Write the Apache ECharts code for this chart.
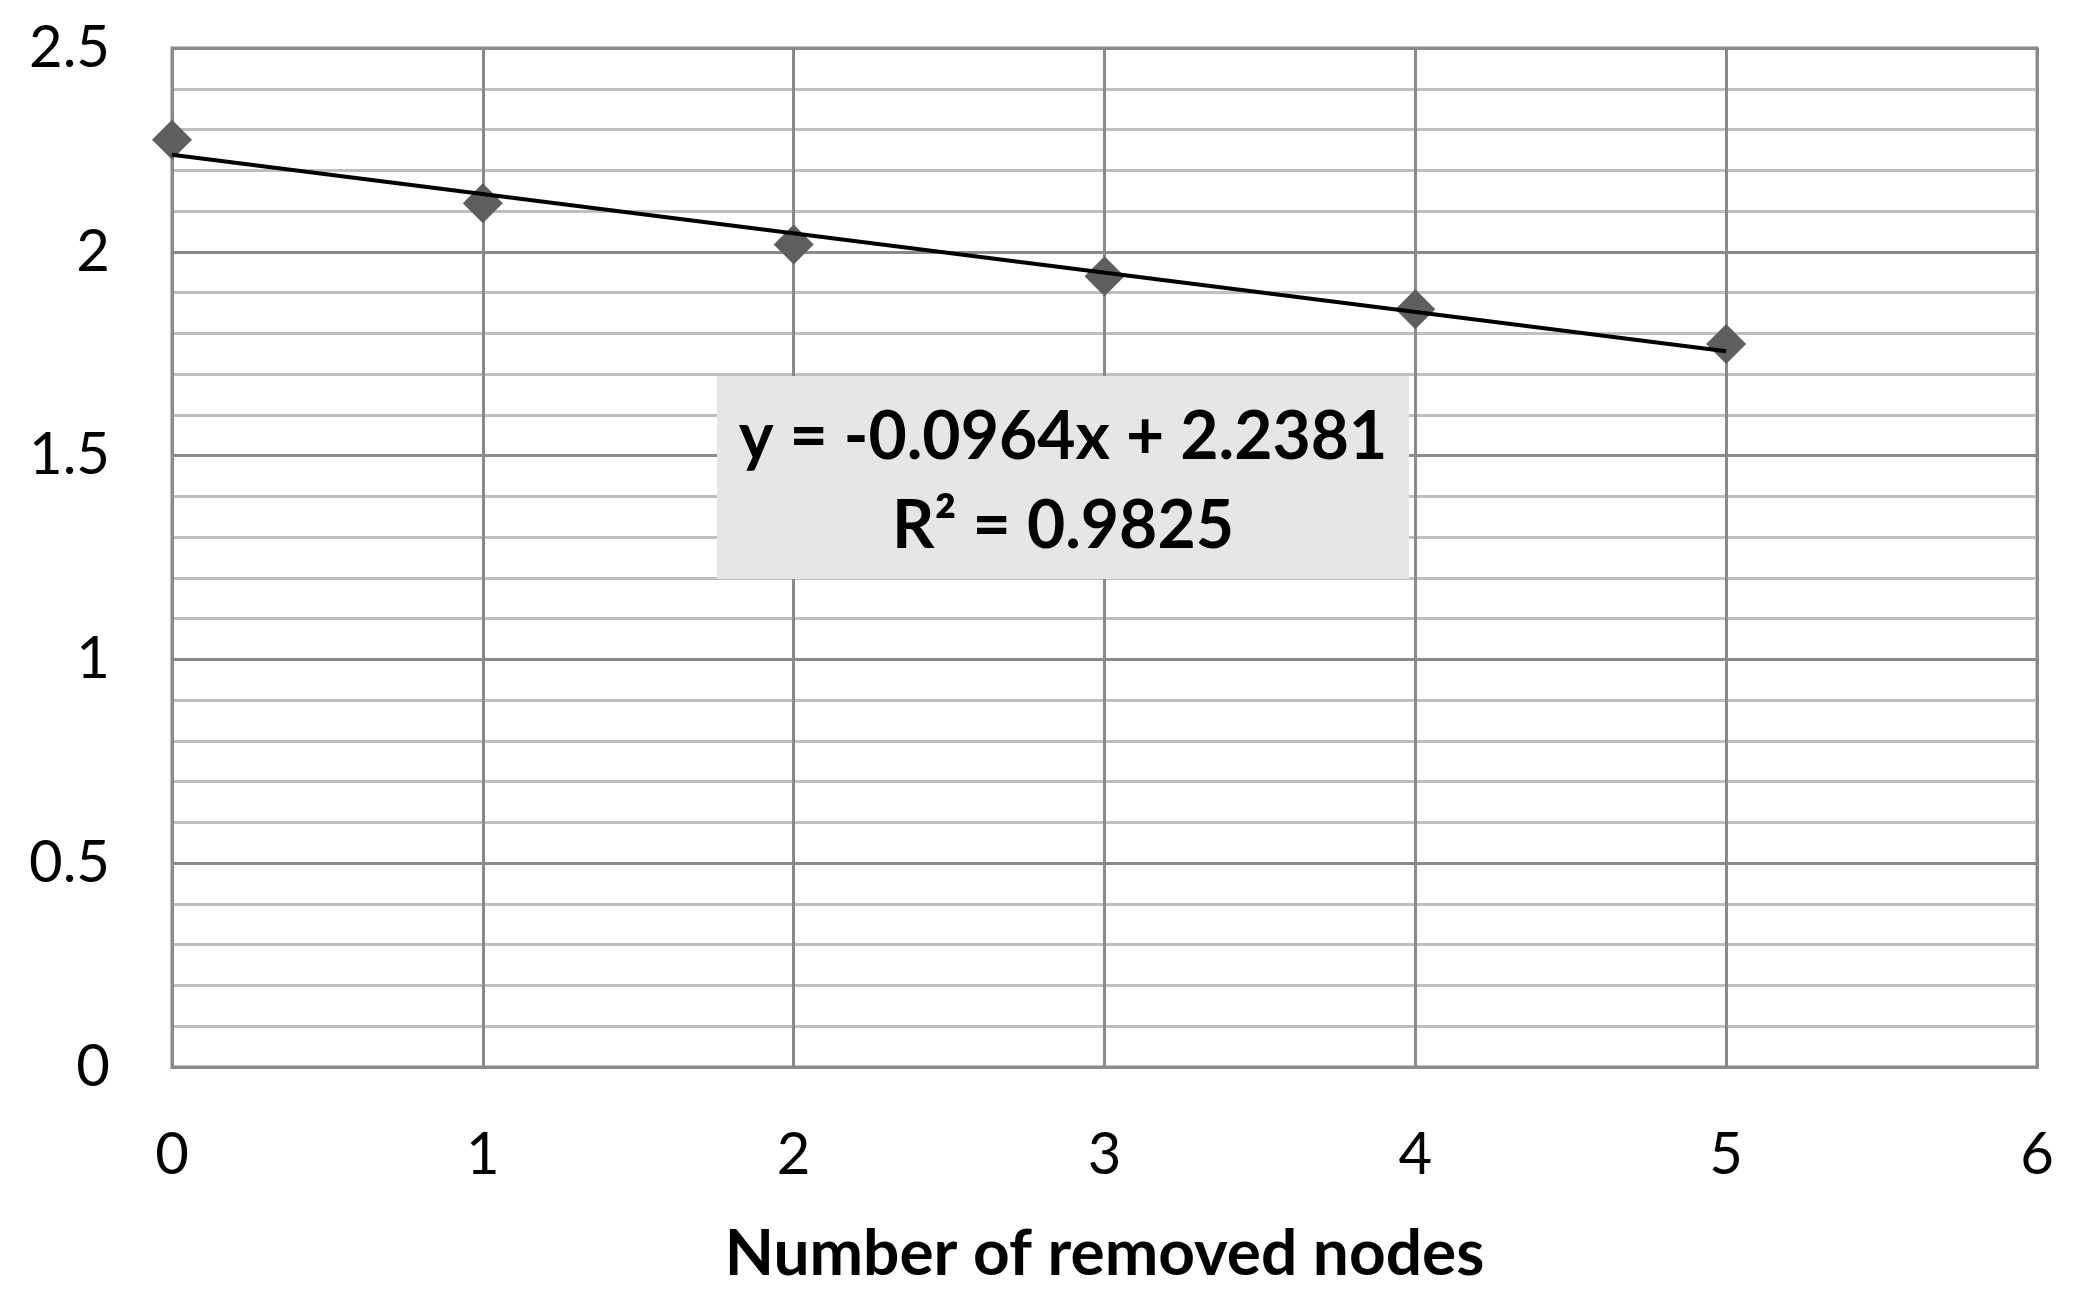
<!DOCTYPE html>
<html>
<head>
<meta charset="utf-8">
<script src="https://cdn.jsdelivr.net/npm/echarts@6/dist/echarts.min.js"></script>
<style>
  html, body { margin: 0; padding: 0; background: #fff; }
  #chart { width: 2081px; height: 1310px; }
</style>
</head>
<body>
<div id="chart"></div>
<script>
// removed nodes vs. value
const nodes = [0, 1, 2, 3, 4, 5]
const values = [2.275, 2.119, 2.018, 1.940, 1.859, 1.774]

// linear trendline, endpoints from the printed equation
const trendX = [0, 5]
const trendY = [2.2381, 1.7561]

const equationText = 'y = -0.0964x + 2.2381'
const r2Text = 'R² = 0.9825'
const xTitle = 'Number of removed nodes'

const darkLine = '#8a8a8a'
const lightLine = '#bfbfbf'
const font = 'Lato'

const chart = echarts.init(document.getElementById('chart'))

chart.setOption({
  animation: false,
  grid: {
    left: 172,
    right: 44,
    top: 48,
    bottom: 243,
    show: true,
    borderColor: darkLine,
    borderWidth: 3
  },
  xAxis: {
    type: 'value',
    min: 0,
    max: 6,
    interval: 1,
    name: xTitle,
    nameLocation: 'middle',
    nameGap: 187,
    nameTextStyle: {
      fontFamily: font,
      fontWeight: 'bold',
      fontSize: 64,
      color: '#000',
      verticalAlign: 'middle'
    },
    axisLine: { show: true, onZero: false, lineStyle: { color: darkLine, width: 3 } },
    axisTick: { show: false },
    axisLabel: {
      margin: 59,
      fontFamily: font,
      fontSize: 58,
      lineHeight: 58,
      color: '#000'
    },
    splitLine: { show: true, lineStyle: { color: darkLine, width: 3 } }
  },
  yAxis: {
    type: 'value',
    min: 0,
    max: 2.5,
    interval: 0.5,
    axisLine: { show: true, onZero: false, lineStyle: { color: darkLine, width: 3 } },
    axisTick: { show: false },
    axisLabel: {
      margin: 62,
      fontFamily: font,
      fontSize: 58,
      color: '#000'
    },
    minorTick: { show: false, splitNumber: 5 },
    minorSplitLine: { show: true, lineStyle: { color: lightLine, width: 3 } },
    splitLine: { show: true, lineStyle: { color: darkLine, width: 3 } }
  },
  series: [
    {
      name: 'data',
      type: 'scatter',
      symbol: 'diamond',
      symbolSize: 40,
      itemStyle: { color: '#5e5e5e', opacity: 1 },
      data: nodes.map((x, i) => [x, values[i]]),
      z: 2
    },
    {
      name: 'trend',
      type: 'line',
      showSymbol: false,
      symbol: 'none',
      lineStyle: { color: '#000', width: 4 },
      data: trendX.map((x, i) => [x, trendY[i]]),
      z: 3
    }
  ],
  graphic: [
    {
      type: 'rect',
      shape: { x: 717, y: 376, width: 692, height: 203 },
      style: { fill: '#e6e6e6' },
      z: 10
    },
    {
      type: 'text',
      x: 1063,
      y: 482,
      style: {
        text: equationText + '\n' + r2Text,
        align: 'center',
        verticalAlign: 'middle',
        fontFamily: font,
        fontWeight: 'bold',
        fontSize: 66,
        lineHeight: 89,
        fill: '#000'
      },
      z: 11
    }
  ]
})
</script>
</body>
</html>
